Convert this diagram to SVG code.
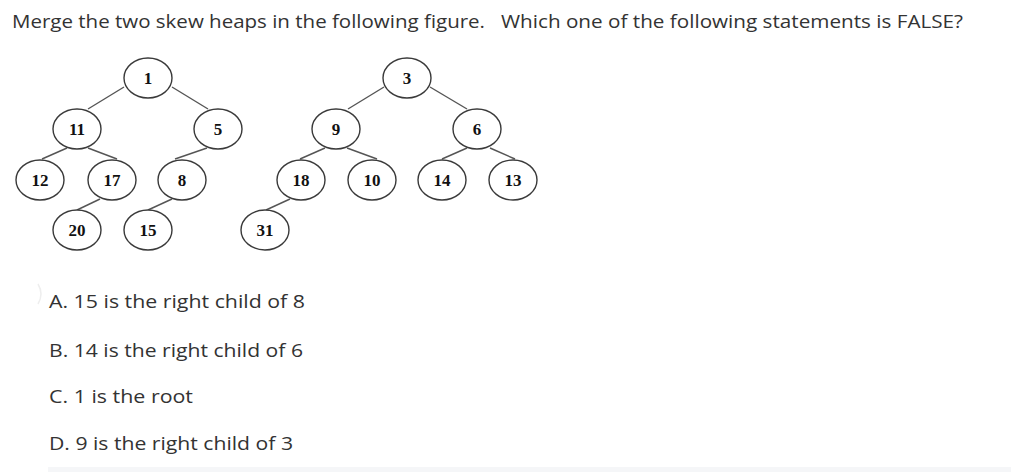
<svg xmlns="http://www.w3.org/2000/svg" width="1011" height="472" viewBox="0 0 1011 472">
<style>
.q{font-family:"Open Sans","Noto Sans","Liberation Sans",sans-serif;font-size:18px;fill:#333}
.n ellipse{fill:#fff;stroke:#3a3a3a;stroke-width:1.4}
.n text{font-family:"Liberation Serif","Times New Roman",serif;font-weight:bold;font-size:17px;fill:#111;text-anchor:middle}
#edges line{stroke:#555;stroke-width:1.4}
</style>
<rect width="1011" height="472" fill="#fff"/>
<g id="title">
<text class="q" x="12" y="28" textLength="473" lengthAdjust="spacingAndGlyphs">Merge the two skew heaps in the following figure.</text>
<text class="q" x="501" y="28" textLength="462" lengthAdjust="spacingAndGlyphs">Which one of the following statements is FALSE?</text>
</g>
<g id="edges">
<line x1="124" y1="87" x2="88" y2="109"/>
<line x1="172" y1="87" x2="208" y2="109"/>
<line x1="67" y1="148" x2="42" y2="159"/>
<line x1="88" y1="148" x2="117" y2="159"/>
<line x1="207" y1="148" x2="175" y2="159"/>
<line x1="100" y1="199" x2="77" y2="210"/>
<line x1="172" y1="199" x2="148" y2="210"/>
<line x1="290" y1="199" x2="266" y2="210"/>
<line x1="384" y1="87" x2="348" y2="109"/>
<line x1="430" y1="87" x2="467" y2="109"/>
<line x1="325" y1="148" x2="300" y2="159"/>
<line x1="347" y1="148" x2="377" y2="159"/>
<line x1="467" y1="148" x2="442" y2="159"/>
<line x1="490" y1="148" x2="515" y2="159"/>
</g>
<g id="n1" class="n"><ellipse cx="148" cy="78" rx="24" ry="20"/><text x="148" y="84">1</text></g>
<g id="n11" class="n"><ellipse cx="77" cy="129" rx="24" ry="20"/><text x="77" y="135">11</text></g>
<g id="n5" class="n"><ellipse cx="218" cy="129" rx="24" ry="20"/><text x="218" y="135">5</text></g>
<g id="n12" class="n"><ellipse cx="40" cy="180" rx="24" ry="20"/><text x="40" y="186">12</text></g>
<g id="n17" class="n"><ellipse cx="112" cy="180" rx="24" ry="20"/><text x="112" y="186">17</text></g>
<g id="n8" class="n"><ellipse cx="182" cy="180" rx="24" ry="20"/><text x="182" y="186">8</text></g>
<g id="n20" class="n"><ellipse cx="77" cy="230" rx="24" ry="20"/><text x="77" y="236">20</text></g>
<g id="n15" class="n"><ellipse cx="148" cy="230" rx="24" ry="20"/><text x="148" y="236">15</text></g>
<g id="n31" class="n"><ellipse cx="265" cy="230" rx="24" ry="20"/><text x="265" y="236">31</text></g>
<g id="n3" class="n"><ellipse cx="407" cy="78" rx="24" ry="20"/><text x="407" y="84">3</text></g>
<g id="n9" class="n"><ellipse cx="336" cy="129" rx="24" ry="20"/><text x="336" y="135">9</text></g>
<g id="n6" class="n"><ellipse cx="477" cy="129" rx="24" ry="20"/><text x="477" y="135">6</text></g>
<g id="n18" class="n"><ellipse cx="301" cy="180" rx="24" ry="20"/><text x="301" y="186">18</text></g>
<g id="n10" class="n"><ellipse cx="372" cy="180" rx="24" ry="20"/><text x="372" y="186">10</text></g>
<g id="n14" class="n"><ellipse cx="442" cy="180" rx="24" ry="20"/><text x="442" y="186">14</text></g>
<g id="n13" class="n"><ellipse cx="513" cy="180" rx="24" ry="20"/><text x="513" y="186">13</text></g>
<path d="M38 284 Q44 294 38 304" fill="none" stroke="#eeeeee" stroke-width="1.5"/>
<g id="options">
<text class="q" x="49" y="308" textLength="256" lengthAdjust="spacingAndGlyphs">A.  15 is the right child of 8</text>
<text class="q" x="49" y="357" textLength="254" lengthAdjust="spacingAndGlyphs">B.  14 is the right child of 6</text>
<text class="q" x="49" y="403" textLength="144" lengthAdjust="spacingAndGlyphs">C.  1 is the root</text>
<text class="q" x="49" y="450" textLength="244" lengthAdjust="spacingAndGlyphs">D.  9 is the right child of 3</text>
</g>
<rect x="48" y="467" width="963" height="5" fill="#f5f6f8"/>
</svg>
